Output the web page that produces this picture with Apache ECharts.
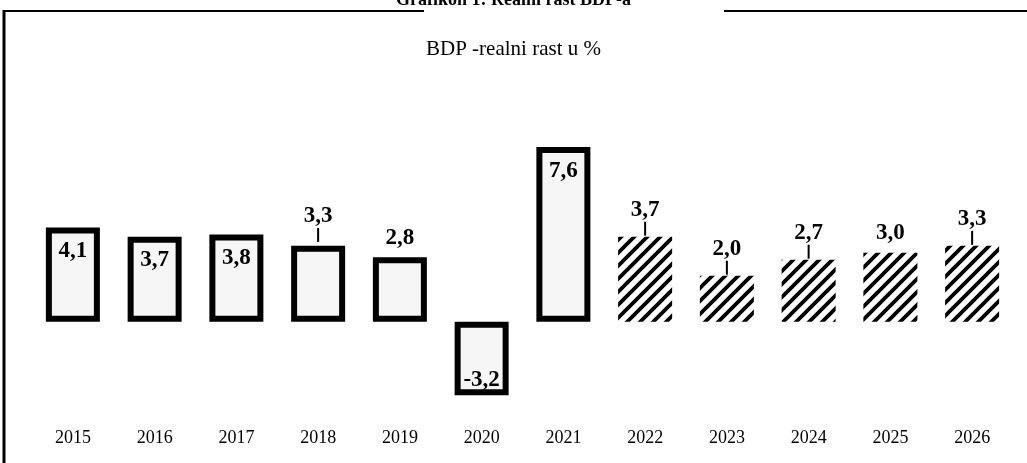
<!DOCTYPE html>
<html>
<head>
<meta charset="utf-8">
<script src="https://cdn.jsdelivr.net/npm/echarts@6/dist/echarts.min.js"></script>
<style>
  html, body { margin: 0; padding: 0; background: #fff; }
  #chart { width: 1027px; height: 463px; }
</style>
</head>
<body>
<div id="chart"></div>
<script>
// data
const years = ['2015', '2016', '2017', '2018', '2019', '2020', '2021', '2022', '2023', '2024', '2025', '2026']
const growth = [4.1, 3.7, 3.8, 3.3, 2.8, -3.2, 7.6, 3.7, 2.0, 2.7, 3.0, 3.3]
const forecastFrom = '2022'

// label placement per year (styling, not data)
const insideTop = ['2015', '2016', '2017', '2021']
const withLeader = ['2018', '2022', '2023', '2024', '2026']

const serif = '"Liberation Serif", "DejaVu Serif", serif'

function hatch () {
  const p = 13
  const c = document.createElement('canvas')
  c.width = p
  c.height = p
  const g = c.getContext('2d')
  g.fillStyle = '#fff'
  g.fillRect(0, 0, p, p)
  g.strokeStyle = '#000'
  g.lineWidth = 3.8
  g.beginPath()
  g.moveTo(-4, p + 4); g.lineTo(p + 4, -4)
  g.moveTo(-4, 4); g.lineTo(4, -4)
  g.moveTo(p - 4, p + 4); g.lineTo(p + 4, p - 4)
  g.stroke()
  return c
}
const hatchFill = { image: hatch(), repeat: 'repeat' }

const fmt = v => v.toFixed(1).replace('.', ',')

const barData = growth.map((v, i) => {
  const y = years[i]
  const forecast = years.indexOf(y) >= years.indexOf(forecastFrom)
  const item = { value: v }
  item.itemStyle = forecast
    ? { color: hatchFill, borderWidth: 0 }
    : { color: '#f6f6f6', borderColor: '#000', borderWidth: 6 }
  if (insideTop.includes(y)) {
    item.label = { position: 'insideTop', distance: 12, formatter: fmt(v) }
  } else if (v < 0) {
    item.label = { position: 'insideBottom', distance: 4, formatter: fmt(v) }
  } else if (withLeader.includes(y)) {
    item.label = { position: 'top', distance: forecast ? 1 : 4, formatter: '{v|' + fmt(v) + '}\n{l|}' }
  } else {
    item.label = { position: 'top', distance: 8, formatter: fmt(v) }
  }
  return item
})

const chart = echarts.init(document.getElementById('chart'))
const option = {
  animation: false,
  backgroundColor: '#fff',
  title: {
    text: 'BDP -realni rast u %',
    left: 'center',
    top: 34,
    textStyle: { fontFamily: serif, fontSize: 21, fontWeight: 'normal', color: '#000' }
  },
  graphic: [
    {
      type: 'text', left: 'center', top: -9,
      style: { text: 'Grafikon 1: Realni rast BDP-a', font: 'bold 18px ' + serif, fill: '#000' }
    },
    { type: 'line', shape: { x1: 3, y1: 11, x2: 424, y2: 11 }, style: { stroke: '#000', lineWidth: 2 } },
    { type: 'line', shape: { x1: 724, y1: 11, x2: 1027, y2: 11 }, style: { stroke: '#000', lineWidth: 2 } },
    { type: 'line', shape: { x1: 4, y1: 10, x2: 4, y2: 463 }, style: { stroke: '#000', lineWidth: 3 } }
  ],
  grid: { left: 32, right: 14, top: 92, bottom: 38 },
  xAxis: {
    type: 'category',
    data: years,
    axisLine: { show: false },
    axisTick: { show: false },
    axisLabel: { margin: 4, fontFamily: serif, fontSize: 18, color: '#000' }
  },
  yAxis: {
    type: 'value',
    min: -4.5,
    max: 10,
    show: false,
    splitLine: { show: false }
  },
  series: [
    {
      type: 'bar',
      barWidth: 54,
      data: barData,
      label: {
        show: true,
        fontFamily: serif,
        fontWeight: 'bold',
        fontSize: 23,
        color: '#000',
        rich: {
          v: { fontFamily: serif, fontWeight: 'bold', fontSize: 23, color: '#000', align: 'center' },
          l: { width: 2, height: 14, backgroundColor: '#000', align: 'center' }
        }
      }
    }
  ]
}
chart.setOption(option)
</script>
</body>
</html>
